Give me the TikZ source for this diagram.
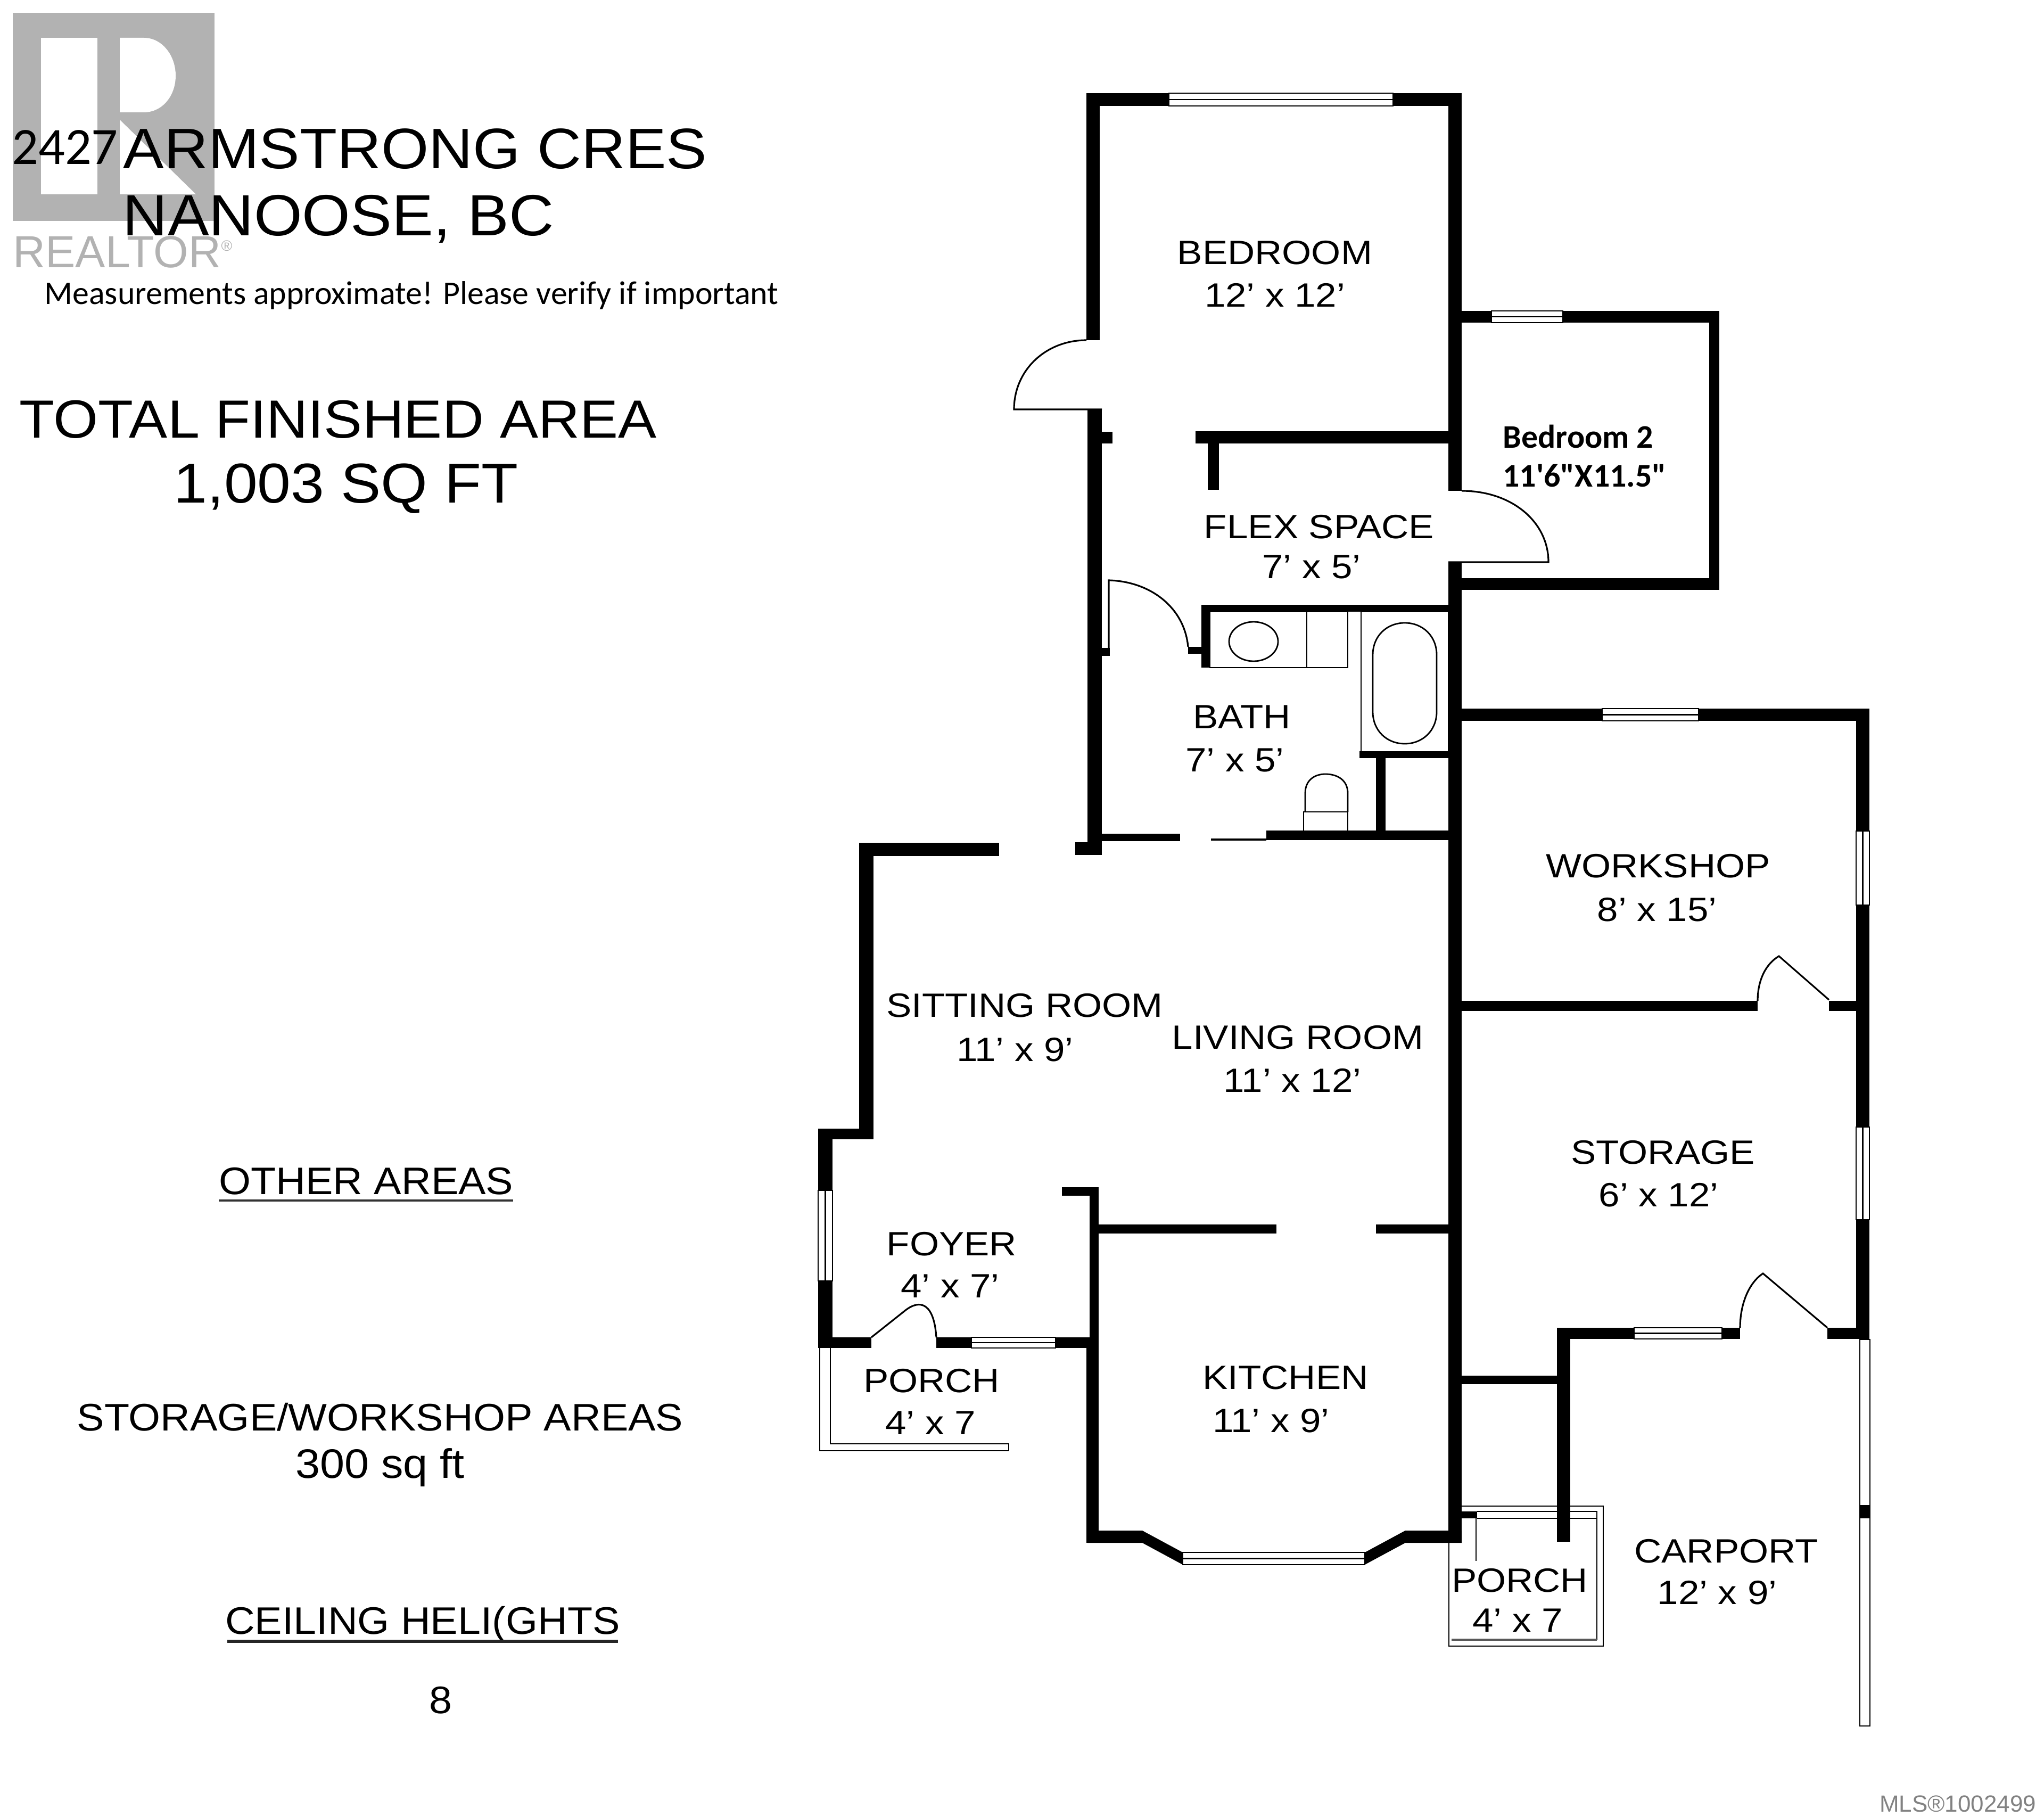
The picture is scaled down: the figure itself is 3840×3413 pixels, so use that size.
\documentclass[tikz,border=0pt]{standalone}
\usepackage{fontspec}
\usepackage{xcolor}
\newfontfamily\planfont[FakeStretch=1.12]{Liberation Sans}
\newfontfamily\headfont[FakeStretch=1.07]{Liberation Sans}
\newfontfamily\stampfont{Liberation Sans}
\newfontfamily\notefont{Carlito}
\definecolor{logogray}{RGB}{178, 178, 178}
\definecolor{stampgray}{RGB}{130, 130, 130}

\begin{document}
\begin{tikzpicture}[x=0.01cm, y=-0.01cm, line cap=butt, line join=miter,
	wall/.style={fill=black},
	thinline/.style={draw=black,line width=0.9pt},
	glass/.style={fill=white,draw=black,line width=0.8pt},
	fixture/.style={draw=black,line width=0.8pt},
	roomtext/.style={anchor=base,inner sep=0pt,font=\planfont\fontsize{18}{20}\selectfont},
	headtext/.style={anchor=base,inner sep=0pt,font=\headfont\fontsize{30}{32}\selectfont},
	areatext/.style={anchor=base,inner sep=0pt,font=\headfont\fontsize{20.5}{22}\selectfont},
	boldtext/.style={anchor=base,inner sep=0pt,font=\notefont\bfseries\fontsize{17.6}{19}\selectfont}]
	\useasboundingbox (0,0) rectangle (3840,3413);

	\fill [logogray] (24,24) rectangle (403,415);
	\fill [white] (77,71) rectangle (183,365);
	\fill [white] (225,71) -- (270,71) .. controls (305,71) and (330,105) .. (330,142) .. controls (330,180) and (305,211) .. (270,211) -- (225,211) -- cycle;
	\fill [white] (225,225) -- (368,365) -- (225,365) -- cycle;
	\node [anchor=base west,inner sep=0pt,text=logogray,font=\stampfont\fontsize{24}{26}\selectfont] (realtor) at (24,503) {REALTOR\textsuperscript{\fontsize{8}{8}\selectfont\textregistered}};

	\foreach \xa/\ya/\xb/\yb in {
		2041/175/2746/199, 2041/175/2066/639, 2721/175/2746/922, 2721/1056/2746/2898,
		2043/769/2070/1606, 2070/811/2090/833, 2070/1217/2085/1232, 2020/1582/2070/1606,
		2070/1566/2217/1580, 2246/810/2721/833, 2269/833/2290/920,
		2746/584/3230/606, 3211/584/3230/1108, 2746/1086/3230/1108,
		2257/1136/2721/1149, 2257/1136/2273/1254, 2232/1215/2257/1228,
		2554/1411/2721/1424, 2585/1424/2603/1567, 2379/1560/2721/1578,
		2746/1331/3512/1354, 3487/1331/3512/2515, 2746/1880/3302/1899, 3436/1880/3487/1899,
		2925/2494/3269/2515, 3433/2494/3512/2515, 2746/2584/2925/2600,
		1614/1583/1877/1608, 1614/1583/1641/2140, 1537/2120/1641/2140, 1537/2120/1564/2532,
		1537/2512/1637/2532, 1759/2512/2047/2532,
		2047/2230/2064/2898, 2041/2512/2064/2898, 1995/2230/2064/2246,
		2064/2300/2398/2317, 2585/2300/2721/2317}
		\fill [wall] (\xa,\ya) rectangle (\xb,\yb);
	\fill [wall] (2043,2875) -- (2146,2875) -- (2222,2916) -- (2222,2939) -- (2146,2898) -- (2043,2898) -- cycle;
	\fill [wall] (2564,2916) -- (2640,2875) -- (2746,2875) -- (2746,2898) -- (2640,2898) -- (2564,2939) -- cycle;

	\draw [thinline] (2041,639) .. controls (1965,639) and (1905,695) .. (1905,769) -- (2070,769);
	\draw [thinline] (2746,922) .. controls (2840,922) and (2909,980) .. (2909,1056) -- (2721,1056);
	\draw [thinline] (2083,1217) -- (2083,1090) .. controls (2160,1092) and (2225,1140) .. (2232,1215);
	\draw [thinline] (2275,1577) -- (2379,1577);
	\draw [thinline] (3302,1880) .. controls (3302,1840) and (3318,1810) .. (3342,1796) -- (3436,1878);
	\draw [thinline] (3269,2494) .. controls (3269,2450) and (3285,2410) .. (3312,2392) -- (3433,2494);
	\draw [thinline] (1637,2512) -- (1700,2462) .. controls (1730,2438) and (1755,2450) .. (1759,2512);

	\draw [fixture] (2273,1149) rectangle (2532,1254);
	\draw [fixture] (2455,1149) -- (2455,1254);
	\draw [fixture] (2355,1205) ellipse [x radius=46, y radius=37];
	\draw [fixture] (2557,1149) rectangle (2721,1414);
	\draw [fixture] (2579,1230) .. controls (2579,1195) and (2605,1170) .. (2639,1170) .. controls (2673,1170) and (2699,1195) .. (2699,1230) -- (2699,1337) .. controls (2699,1372) and (2673,1397) .. (2639,1397) .. controls (2605,1397) and (2579,1372) .. (2579,1337) -- cycle;
	\draw [fixture] (2449,1562) -- (2449,1525) -- (2532,1525) -- (2532,1562);
	\draw [fixture] (2452,1525) -- (2452,1490) .. controls (2452,1465) and (2470,1454) .. (2490,1454) .. controls (2512,1454) and (2532,1465) .. (2532,1490) -- (2532,1525);

	\foreach \xa/\ya/\xb/\yb in {2196/175/2617/199, 2802/584/2936/606, 3010/1331/3191/1354, 3070/2494/3235/2515, 1825/2512/1983/2532, 2222/2916/2564/2939} {
		\draw [glass] (\xa,\ya) rectangle (\xb,\yb);
		\draw [glass] (\xa,{0.5*(\ya+\yb)}) -- (\xb,{0.5*(\ya+\yb)});
	}
	\foreach \xa/\ya/\xb/\yb in {3487/1561/3512/1700, 3487/2117/3512/2291, 1537/2236/1564/2406} {
		\draw [glass] (\xa,\ya) rectangle (\xb,\yb);
		\draw [glass] ({0.5*(\xa+\xb)},\ya) -- ({0.5*(\xa+\xb)},\yb);
	}

	\draw [glass] (3494,2516) rectangle (3513,3242);
	\fill [wall] (3494,2827) rectangle (3513,2852);
	\draw [glass] (1540,2532) -- (1540,2725) -- (1895,2725) -- (1895,2712) -- (1560,2712) -- (1560,2532);

	\draw [fixture] (2722,2898) -- (2722,3092) -- (3012,3092) -- (3012,2829) -- (2746,2829);
	\draw [fixture] (2775,2839) -- (3000,2839) -- (3000,3081);
	\draw [fixture] (2775,2852) -- (3000,2852);
	\draw [line width=1.3pt,black!65] (2727,3080) -- (3000,3080);
	\fill [wall] (2746,2839) rectangle (2775,2852);
	\draw [fixture] (2773,2852) -- (2773,2932);
	\fill [wall] (2925,2494) rectangle (2950,2896);

	\node [anchor=base,inner sep=0pt,font=\notefont\fontsize{28}{30}\selectfont] (housenumber) at (122,309) {2427};
	\node [headtext,font=\headfont\fontsize{30.5}{32}\selectfont] (streetname) at (780,317) {ARMSTRONG CRES};
	\node [headtext,font=\headfont\fontsize{31}{33}\selectfont] (townname) at (636,443) {NANOOSE, BC};
	\node [anchor=base,inner sep=0pt,font=\notefont\fontsize{17.6}{19}\selectfont] (notetext) at (773,572) {Measurements approximate! Please verify if important};
	\node [headtext,font=\headfont\fontsize{28.7}{31}\selectfont] (totaltitle) at (635,823) {TOTAL FINISHED AREA};
	\node [headtext] (totalvalue) at (650,944) {1,003 SQ FT};

	\node [areatext] (otherareas) at (688,2243) {OTHER AREAS};
	\draw [line width=1.3pt,black!80] (411,2255) -- (964,2255);
	\node [areatext] (storagetitle) at (714,2687) {STORAGE/WORKSHOP AREAS};
	\node [areatext,font=\headfont\fontsize{22}{24}\selectfont] (storagevalue) at (714,2776) {300 sq ft};
	\node [areatext] (ceilingtitle) at (794,3069) {CEILING HELI(GHTS};
	\draw [line width=1.5pt,black!85] (427,3083) -- (1161,3083);
	\node [areatext] (ceilingvalue) at (828,3218) {8};

	\node [roomtext] (bedroomname) at (2395,497) {BEDROOM};
	\node [roomtext] (bedroomsize) at (2395,577) {12’ x 12’};
	\node [boldtext] (bedtwoname) at (2965,841) {Bedroom 2};
	\node [boldtext] (bedtwosize) at (2977,915) {11'6"X11.5"};
	\node [roomtext] (flexname) at (2478,1011) {FLEX SPACE};
	\node [roomtext] (flexsize) at (2464,1086) {7’ x 5’};
	\node [roomtext] (bathname) at (2333,1368) {BATH};
	\node [roomtext] (bathsize) at (2320,1449) {7’ x 5’};
	\node [roomtext] (workshopname) at (3115,1648) {WORKSHOP};
	\node [roomtext] (workshopsize) at (3113,1730) {8’ x 15’};
	\node [roomtext] (sittingname) at (1925,1910) {SITTING ROOM};
	\node [roomtext] (sittingsize) at (1907,1993) {11’ x 9’};
	\node [roomtext] (livingname) at (2438,1970) {LIVING ROOM};
	\node [roomtext] (livingsize) at (2428,2051) {11’ x 12’};
	\node [roomtext] (storagename) at (3124,2186) {STORAGE};
	\node [roomtext] (storagesize) at (3116,2266) {6’ x 12’};
	\node [roomtext] (foyername) at (1788,2358) {FOYER};
	\node [roomtext] (foyersize) at (1785,2437) {4’ x 7’};
	\node [roomtext] (frontporchname) at (1750,2615) {PORCH};
	\node [roomtext] (frontporchsize) at (1748,2694) {4’ x 7};
	\node [roomtext] (kitchenname) at (2415,2609) {KITCHEN};
	\node [roomtext] (kitchensize) at (2388,2690) {11’ x 9’};
	\node [roomtext] (carportname) at (3243,2935) {CARPORT};
	\node [roomtext] (carportsize) at (3226,3013) {12’ x 9’};
	\node [roomtext] (sideporchname) at (2855,2990) {PORCH};
	\node [roomtext] (sideporchsize) at (2851,3065) {4’ x 7};

	\node [anchor=base,inner sep=0pt,text=stampgray,font=\stampfont\fontsize{12.5}{14}\selectfont] (mlsstamp) at (3678,3403) {MLS\textregistered 1002499};
\end{tikzpicture}
\end{document}
